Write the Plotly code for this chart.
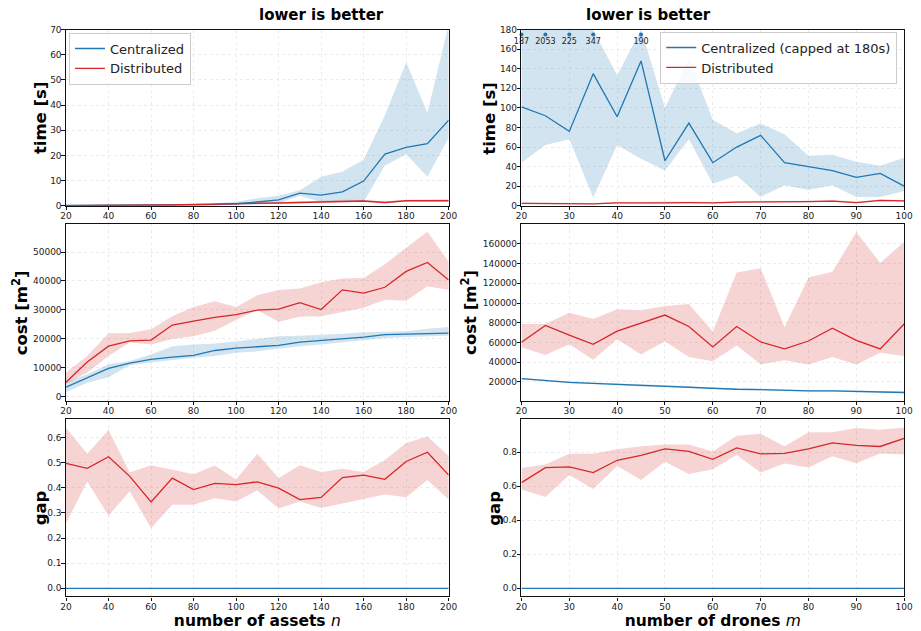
import plotly.graph_objects as go

# ---------------- data ----------------
n_assets = [20, 30, 40, 50, 60, 70, 80, 90, 100, 110, 120, 130, 140, 150, 160, 170, 180, 190, 200]
m_drones = [20, 25, 30, 35, 40, 45, 50, 55, 60, 65, 70, 75, 80, 85, 90, 95, 100]

# time vs assets
cen_time_n = [0.1, 0.1, 0.1, 0.1, 0.15, 0.2, 0.4, 0.5, 0.8, 1.5, 2.3, 5.0, 4.2, 5.5, 9.8, 20.5, 23.2, 24.7, 34.0]
cen_time_n_hi = [0.2, 0.2, 0.2, 0.2, 0.3, 0.4, 0.7, 1.0, 1.6, 3.0, 4.0, 6.2, 11.5, 13.5, 18.3, 36.0, 57.0, 37.0, 72.0]
cen_time_n_lo = [0.05, 0.05, 0.05, 0.05, 0.1, 0.1, 0.2, 0.2, 0.3, 0.5, 1.0, 4.0, 1.5, 2.0, 1.5, 16.0, 20.5, 11.5, 27.0]
dis_time_n = [0.05, 0.07, 0.1, 0.15, 0.2, 0.3, 0.5, 0.6, 0.8, 1.0, 1.1, 1.3, 1.6, 1.8, 1.9, 1.3, 2.0, 2.0, 2.0]
dis_time_n_hi = [0.1, 0.1, 0.15, 0.2, 0.3, 0.4, 0.6, 0.8, 1.0, 1.3, 1.4, 1.6, 2.0, 2.4, 2.3, 1.8, 2.4, 2.5, 2.7]
dis_time_n_lo = [0.03, 0.05, 0.07, 0.1, 0.15, 0.2, 0.4, 0.5, 0.6, 0.8, 0.9, 1.0, 1.3, 1.4, 1.5, 1.0, 1.7, 1.6, 1.6]

# time vs drones (centralized capped at 180 s)
cen_time_m = [101, 92, 76, 135, 91, 148, 46, 84.5, 44, 60, 72, 44, 40, 36, 29, 33, 20]
cen_time_m_hi = [180, 180, 180, 180, 133, 180, 100, 151, 88, 74, 84, 73, 51, 52, 45, 41, 49]
cen_time_m_lo = [44, 62, 68, 8.5, 62, 48, 36, 68, 22.5, 31, 9, 21, 16, 21, 9, 9, 15]
dis_time_m = [2.5, 2.3, 2.2, 2.0, 3.0, 2.8, 3.0, 3.2, 3.0, 3.8, 4.0, 3.5, 4.2, 4.8, 3.2, 5.5, 5.0]
dis_time_m_hi = [3.3, 3.0, 2.9, 2.7, 3.8, 3.6, 4.3, 4.0, 3.8, 4.6, 4.9, 4.4, 5.2, 6.2, 4.0, 6.5, 6.0]
dis_time_m_lo = [1.8, 1.7, 1.6, 1.5, 2.3, 2.1, 2.2, 2.5, 2.3, 3.0, 3.2, 2.7, 3.3, 3.8, 2.5, 4.5, 4.2]
capped_x = [20, 25, 30, 35, 45]
capped_y = [175, 175, 175, 175, 175]
capped_labels = ["187", "2053", "225", "347", "190"]

# cost vs assets
cen_cost_n = [3200, 6400, 9700, 11500, 12800, 13600, 14200, 15900, 16700, 17200, 17700, 18800, 19400, 20000, 20500, 21400, 21500, 21700, 21900]
cen_cost_n_hi = [4900, 7700, 11100, 12300, 14500, 17400, 18000, 18300, 19000, 19900, 20800, 21000, 21300, 21700, 22200, 22300, 22600, 23400, 24000]
cen_cost_n_lo = [1500, 4700, 6600, 10800, 11700, 12600, 13400, 14000, 15100, 15600, 16500, 17400, 18000, 18700, 19400, 20200, 20600, 20800, 21000]
dis_cost_n = [4900, 11900, 17400, 19200, 19500, 24700, 26100, 27400, 28300, 29900, 30200, 32500, 30100, 36900, 35800, 37800, 43300, 46400, 40300]
dis_cost_n_hi = [8300, 14000, 21900, 22000, 23300, 27800, 31000, 33000, 31000, 35000, 36900, 37400, 39500, 40800, 41000, 45800, 51500, 57000, 46700]
dis_cost_n_lo = [4300, 8300, 14000, 18700, 18000, 19900, 20800, 22700, 26500, 29900, 25900, 27600, 27800, 29300, 30700, 33500, 33100, 38200, 36900]

# cost vs drones
cen_cost_m = [23300, 21300, 19600, 18600, 17600, 16300, 16000, 15000, 13300, 12600, 12300, 11600, 11000, 11000, 10300, 9600, 9300]
cen_cost_m_hi = [24100, 22300, 20600, 19500, 18600, 17300, 16900, 15900, 14200, 13500, 13200, 12500, 11900, 11900, 11200, 10500, 10200]
cen_cost_m_lo = [22500, 20300, 18600, 17700, 16600, 15300, 15100, 14100, 12400, 11700, 11400, 10700, 10100, 10100, 9400, 8700, 8400]
dis_cost_m = [60200, 77200, 67500, 58200, 71500, 79500, 87800, 76200, 55500, 76200, 60500, 53500, 61500, 74500, 62200, 53500, 78800]
dis_cost_m_hi = [78800, 78800, 90100, 83800, 93800, 92800, 97100, 99100, 71200, 131000, 135300, 75500, 126000, 131700, 172000, 140700, 162000]
dis_cost_m_lo = [55200, 47200, 58200, 42600, 63200, 47900, 61200, 45200, 40900, 56900, 37900, 41900, 37600, 45200, 37600, 49600, 46200]

# gap vs assets
cen_gap_n = [0.0] * 19
dis_gap_n = [0.498, 0.478, 0.524, 0.446, 0.344, 0.439, 0.393, 0.418, 0.413, 0.424, 0.399, 0.353, 0.362, 0.441, 0.451, 0.434, 0.505, 0.542, 0.451]
dis_gap_n_hi = [0.638, 0.536, 0.631, 0.461, 0.490, 0.472, 0.454, 0.489, 0.433, 0.536, 0.439, 0.490, 0.463, 0.476, 0.463, 0.511, 0.579, 0.605, 0.527]
dis_gap_n_lo = [0.259, 0.425, 0.289, 0.387, 0.239, 0.333, 0.333, 0.359, 0.346, 0.390, 0.318, 0.346, 0.320, 0.337, 0.357, 0.374, 0.363, 0.431, 0.354]

# gap vs drones
cen_gap_m = [0.0] * 17
dis_gap_m = [0.621, 0.709, 0.713, 0.680, 0.752, 0.781, 0.819, 0.804, 0.758, 0.825, 0.790, 0.792, 0.819, 0.854, 0.839, 0.833, 0.881]
dis_gap_m_hi = [0.707, 0.727, 0.790, 0.790, 0.817, 0.835, 0.844, 0.844, 0.804, 0.896, 0.908, 0.835, 0.916, 0.916, 0.941, 0.931, 0.945]
dis_gap_m_lo = [0.580, 0.536, 0.665, 0.584, 0.719, 0.636, 0.744, 0.671, 0.700, 0.783, 0.680, 0.733, 0.709, 0.775, 0.734, 0.792, 0.786]

# ---------------- style ----------------
BLUE = "#1f77b4"
RED = "#d62728"
BLUE_F = "rgba(31,119,180,0.2)"
RED_F = "rgba(214,39,40,0.2)"
FONT = "DejaVu Sans"

W, H = 921, 631
fig = go.Figure()


def band(x, lo, hi, fill, ax):
    xa, ya = ax
    fig.add_trace(go.Scatter(x=x, y=hi, mode="lines", line=dict(width=0), showlegend=False,
                             hoverinfo="skip", xaxis=xa, yaxis=ya))
    fig.add_trace(go.Scatter(x=x, y=lo, mode="lines", line=dict(width=0), fill="tonexty",
                             fillcolor=fill, showlegend=False, hoverinfo="skip", xaxis=xa, yaxis=ya))


def line(x, y, color, ax, name=None, legend=None):
    xa, ya = ax
    kw = dict(legend=legend) if legend else {}
    fig.add_trace(go.Scatter(x=x, y=y, mode="lines", line=dict(color=color, width=1.3),
                             name=name, showlegend=name is not None,
                             xaxis=xa, yaxis=ya, **kw))


A = {1: ("x", "y"), 2: ("x2", "y2"), 3: ("x3", "y3"), 4: ("x4", "y4"), 5: ("x5", "y5"), 6: ("x6", "y6")}

# panel 1: time vs assets
band(n_assets, cen_time_n_lo, cen_time_n_hi, BLUE_F, A[1])
band(n_assets, dis_time_n_lo, dis_time_n_hi, RED_F, A[1])
line(n_assets, cen_time_n, BLUE, A[1], "Centralized", "legend")
line(n_assets, dis_time_n, RED, A[1], "Distributed", "legend")

# panel 2: time vs drones
band(m_drones, cen_time_m_lo, cen_time_m_hi, BLUE_F, A[2])
band(m_drones, dis_time_m_lo, dis_time_m_hi, RED_F, A[2])
line(m_drones, cen_time_m, BLUE, A[2], "Centralized (capped at 180s)", "legend2")
line(m_drones, dis_time_m, RED, A[2], "Distributed", "legend2")
fig.add_trace(go.Scatter(x=capped_x, y=capped_y, mode="markers+text", text=capped_labels,
                         textposition="bottom center", textfont=dict(size=8, color="#222", family=FONT),
                         marker=dict(color=BLUE, size=4), cliponaxis=False, showlegend=False,
                         xaxis="x2", yaxis="y2"))

# panel 3: cost vs assets
band(n_assets, dis_cost_n_lo, dis_cost_n_hi, RED_F, A[3])
band(n_assets, cen_cost_n_lo, cen_cost_n_hi, BLUE_F, A[3])
line(n_assets, cen_cost_n, BLUE, A[3])
line(n_assets, dis_cost_n, RED, A[3])

# panel 4: cost vs drones
band(m_drones, dis_cost_m_lo, dis_cost_m_hi, RED_F, A[4])
band(m_drones, cen_cost_m_lo, cen_cost_m_hi, BLUE_F, A[4])
line(m_drones, cen_cost_m, BLUE, A[4])
line(m_drones, dis_cost_m, RED, A[4])

# panel 5: gap vs assets
band(n_assets, dis_gap_n_lo, dis_gap_n_hi, RED_F, A[5])
line(n_assets, cen_gap_n, BLUE, A[5])
line(n_assets, dis_gap_n, RED, A[5])

# panel 6: gap vs drones
band(m_drones, dis_gap_m_lo, dis_gap_m_hi, RED_F, A[6])
line(m_drones, cen_gap_m, BLUE, A[6])
line(m_drones, dis_gap_m, RED, A[6])

# ---------------- layout ----------------
xl = [61 / W, 450 / W]
xr = [524 / W, 913 / W]
y_top = [1 - 204 / H, 1 - 25 / H]
y_mid = [1 - 402 / H, 1 - 223 / H]
y_bot = [1 - 601 / H, 1 - 421 / H]

tickfont = dict(family=FONT, size=9, color="#222")
xtitlefont = dict(family=FONT, size=15.5, color="black", weight="bold")
common = dict(showline=True, mirror=True, linecolor="#111", linewidth=1.2, ticks="outside",
              ticklen=3.5, tickcolor="#111", tickfont=tickfont, showgrid=True,
              gridcolor="#ececec", griddash="dot", gridwidth=1, zeroline=False,
              ticklabelstandoff=-2)


def xax(domain, anchor, rng, dtick, title=None):
    d = dict(domain=domain, anchor=anchor, range=rng, tick0=20, dtick=dtick, **common)
    if title:
        d["title"] = dict(text=title, font=xtitlefont, standoff=3)
    return d


def yax(domain, anchor, rng, dtick, fmt=None):
    d = dict(domain=domain, anchor=anchor, range=rng, tick0=0, dtick=dtick, **common)
    if fmt:
        d["tickformat"] = fmt
    return d


legend_common = dict(xanchor="left", yanchor="top", traceorder="normal", itemwidth=30,
                     bgcolor="rgba(255,255,255,0.85)", bordercolor="#cccccc", borderwidth=1,
                     font=dict(family=FONT, size=13, color="#222"), tracegroupgap=0)

# y-axis titles (text, x pixel, y pixel)
ytitles = [
    ("time [s]", 35, 114.5),
    ("cost [m<sup>2</sup>]", 14, 312.5),
    ("gap", 35, 511),
    ("time [s]", 492, 114.5),
    ("cost [m<sup>2</sup>]", 470, 312.5),
    ("gap", 497, 511),
]
annotations = [
    dict(text="<b>lower is better</b>", x=(xl[0] + xl[1]) / 2, y=1 - 10 / H, xref="paper", yref="paper",
         showarrow=False, font=dict(family=FONT, size=15, color="black"), yanchor="middle"),
    dict(text="<b>lower is better</b>", x=(xr[0] + xr[1]) / 2, y=1 - 10 / H, xref="paper", yref="paper",
         showarrow=False, font=dict(family=FONT, size=15, color="black"), yanchor="middle"),
]
for t, px, py in ytitles:
    annotations.append(dict(text="<b>" + t + "</b>", x=px / W, y=1 - py / H, xref="paper", yref="paper",
                            showarrow=False, textangle=-90, xanchor="center", yanchor="middle",
                            font=dict(family=FONT, size=16.5, color="black")))

fig.update_layout(
    width=W, height=H,
    margin=dict(l=0, r=0, t=0, b=0),
    paper_bgcolor="white", plot_bgcolor="white",
    font=dict(family=FONT, color="#222"),
    xaxis=xax(xl, "y", [20, 200], 20),
    yaxis=yax(y_top, "x", [0, 70], 10),
    xaxis2=xax(xr, "y2", [20, 100], 10),
    yaxis2=yax(y_top, "x2", [0, 180], 20),
    xaxis3=xax(xl, "y3", [20, 200], 20),
    yaxis3=yax(y_mid, "x3", [-1470, 59560], 10000, "d"),
    xaxis4=xax(xr, "y4", [20, 100], 10),
    yaxis4=yax(y_mid, "x4", [1040, 179660], 20000, "d"),
    xaxis5=xax(xl, "y5", [20, 200], 20, "number of assets <i style='font-weight:normal'>n</i>"),
    yaxis5=yax(y_bot, "x5", [-0.0325, 0.673], 0.1, ".1f"),
    xaxis6=xax(xr, "y6", [20, 100], 10, "number of drones <i style='font-weight:normal'>m</i>"),
    yaxis6=yax(y_bot, "x6", [-0.048, 0.9925], 0.2, ".1f"),
    legend=dict(x=64 / W, y=1 - 28 / H, **legend_common),
    legend2=dict(x=906 / W, y=1 - 27 / H, **{**legend_common, "xanchor": "right"}),
    hovermode=False,
    annotations=annotations,
)

fig.write_html("out.html")
